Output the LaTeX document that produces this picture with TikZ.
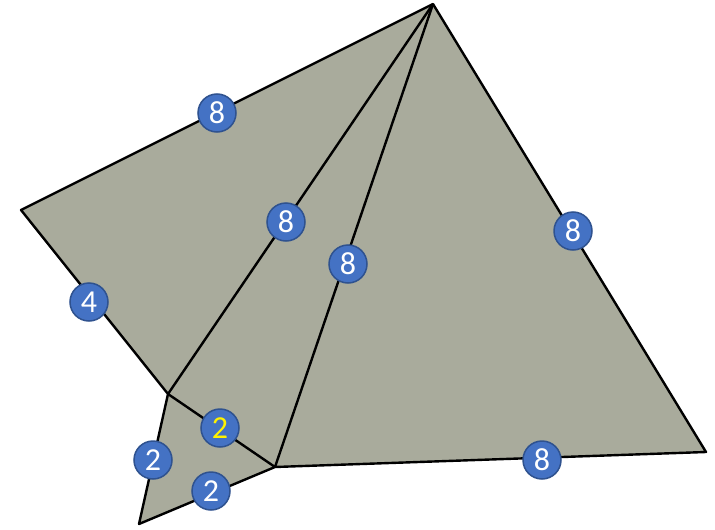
\documentclass[tikz,border=0pt]{standalone}
\usepackage{fontspec}
\setmainfont{Carlito}
\definecolor{facegray}{RGB}{169,171,156}
\definecolor{badgeblue}{RGB}{68,114,196}
\definecolor{badgeedge}{RGB}{47,82,143}
\tikzset{
  badge/.style={circle, fill=badgeblue, draw=badgeedge, line width=1.5pt,
    minimum size=38pt, inner sep=0pt, text=white, font=\fontsize{32}{32}\selectfont},
  edge/.style={line width=2.4pt, line join=round}
}
\begin{document}
\begin{tikzpicture}[x=1pt, y=-1pt]
  \useasboundingbox (0,0) rectangle (715,530);
  % corners
  \coordinate (top) at (433,4);
  \coordinate (left) at (21,210);
  \coordinate (mid) at (168,394);
  \coordinate (low) at (139,524);
  \coordinate (foot) at (275,467);
  \coordinate (right) at (706,452);
  \fill[facegray] (top) -- (left) -- (mid) -- (low) -- (foot) -- (right) -- cycle;
  \draw[edge] (top) -- (left) -- (mid) -- (low) -- (foot) -- (right) -- cycle;
  \draw[edge] (mid) -- (top);
  \draw[edge] (foot) -- (top);
  \draw[edge] (mid) -- (foot);
  % edge weights
  \node[badge] (wtl) at (217,113) {8};
  \node[badge] (wmid) at (286,222) {8};
  \node[badge] (wfoot) at (348,264) {8};
  \node[badge] (wtr) at (573,231) {8};
  \node[badge] (wleft) at (89,302) {4};
  \node[badge, text=yellow] (winner) at (220,428) {2};
  \node[badge] (wlow) at (153,460) {2};
  \node[badge] (wbase) at (211,491) {2};
  \node[badge] (wright) at (542,460) {8};
\end{tikzpicture}
\end{document}
